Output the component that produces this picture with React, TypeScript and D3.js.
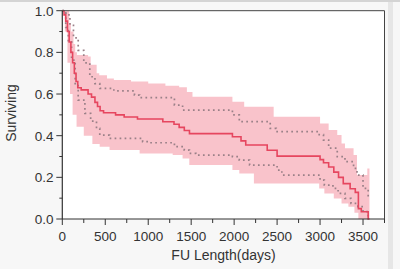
import React from "react";
import * as d3 from "d3";

const survival: [number, number][] = [
  [0, 1.0], [20, 0.98], [40, 0.95], [60, 0.9], [80, 0.85], [100, 0.8], [120, 0.75],
  [140, 0.7], [160, 0.66], [180, 0.63], [220, 0.62], [300, 0.6], [340, 0.585],
  [380, 0.56], [410, 0.54], [440, 0.52], [480, 0.51], [620, 0.5], [720, 0.49],
  [875, 0.48], [1170, 0.467], [1300, 0.455], [1360, 0.44], [1420, 0.425],
  [1480, 0.41], [1980, 0.395], [2080, 0.375], [2135, 0.355], [2385, 0.33],
  [2500, 0.302], [3000, 0.285], [3040, 0.27], [3100, 0.25], [3160, 0.225],
  [3215, 0.2], [3270, 0.17], [3350, 0.145], [3410, 0.128], [3446, 0.05],
  [3480, 0.035], [3560, 0.0], [3575, 0.0],
];

const bandUpper: [number, number][] = [
  [0, 1.0], [50, 1.0], [80, 0.94], [100, 0.9], [130, 0.84], [150, 0.8], [170, 0.787],
  [300, 0.78], [330, 0.74], [400, 0.7], [430, 0.69], [520, 0.675], [600, 0.667],
  [800, 0.66], [1000, 0.65], [1200, 0.64], [1360, 0.632], [1450, 0.61],
  [1515, 0.587], [1980, 0.563], [2117, 0.539], [2460, 0.491], [3000, 0.459],
  [3100, 0.427], [3200, 0.403], [3250, 0.363], [3290, 0.34], [3390, 0.307],
  [3430, 0.211], [3550, 0.243], [3575, 0.0],
];

const bandLower: [number, number][] = [
  [0, 1.0], [30, 0.9], [60, 0.75], [90, 0.6], [120, 0.5], [166, 0.443], [250, 0.4],
  [350, 0.36], [435, 0.347], [550, 0.331], [900, 0.315], [1285, 0.307],
  [1400, 0.29], [1478, 0.259], [1980, 0.235], [2060, 0.219], [2230, 0.171],
  [2990, 0.147], [3050, 0.123], [3160, 0.099], [3250, 0.075], [3330, 0.059],
  [3400, 0.03], [3446, 0.0], [3575, 0.0],
];

const dotUpper: [number, number][] = [
  [0, 1.0], [40, 0.98], [89, 0.93], [130, 0.87], [185, 0.81], [250, 0.75],
  [320, 0.683], [380, 0.65], [436, 0.627], [600, 0.615], [840, 0.595],
  [900, 0.583], [1305, 0.547], [1400, 0.523], [1980, 0.5], [2060, 0.467],
  [2420, 0.435], [2490, 0.419], [2990, 0.405], [3040, 0.379], [3100, 0.34],
  [3200, 0.299], [3290, 0.275], [3390, 0.243], [3430, 0.211], [3500, 0.147],
  [3560, 0.1], [3575, 0.1],
];

const dotLower: [number, number][] = [
  [0, 1.0], [40, 0.92], [70, 0.85], [108, 0.763], [150, 0.65], [185, 0.571],
  [263, 0.507], [330, 0.47], [398, 0.435], [436, 0.403], [550, 0.387],
  [935, 0.371], [1000, 0.366], [1305, 0.347], [1420, 0.331], [1480, 0.315],
  [1555, 0.307], [1980, 0.299], [2060, 0.283], [2180, 0.259], [2500, 0.235],
  [2555, 0.211], [3000, 0.187], [3050, 0.163], [3150, 0.147], [3210, 0.123],
  [3290, 0.099], [3360, 0.075], [3440, 0.059], [3500, 0.035], [3560, 0.0],
];

const xTicks = [0, 500, 1000, 1500, 2000, 2500, 3000, 3500];
const yTicks = [0, 0.2, 0.4, 0.6, 0.8, 1.0];

function stepAt(arr: [number, number][], t: number) {
  let v = arr[0][1];
  for (const [tt, vv] of arr) {
    if (tt <= t) v = vv;
    else break;
  }
  return v;
}

export default function App() {
  const W = 400, H = 269;
  const x = d3.scaleLinear().domain([0, 3750]).range([62.3, 384.5]);
  const y = d3.scaleLinear().domain([0, 1]).range([219, 10.7]);

  const times = Array.from(new Set([...bandUpper.map((d) => d[0]), ...bandLower.map((d) => d[0])])).sort((a, b) => a - b);
  const bandData = times.map((t) => ({ t, hi: stepAt(bandUpper, t), lo: stepAt(bandLower, t) }));
  const area = d3
    .area<{ t: number; hi: number; lo: number }>()
    .x((d) => x(d.t))
    .y0((d) => y(d.lo))
    .y1((d) => y(d.hi))
    .curve(d3.curveStepAfter);
  const line = d3
    .line<[number, number]>()
    .x((d) => x(d[0]))
    .y((d) => y(d[1]))
    .curve(d3.curveStepAfter);

  const xMinor = d3.range(0, 3751, 250);
  const yMinor = d3.range(0, 1.001, 0.1);
  const font = "'Liberation Sans', Arial, sans-serif";

  return (
    <div style={{ position: "fixed", left: 0, top: 0 }}>
      <svg width={W} height={H} style={{ display: "block" }}>
        <rect x={0} y={0} width={W} height={H} fill="#f7f7f7" />
        <rect x={0} y={0} width={W} height={2} fill="#d4d4d4" />
        <rect x={388} y={2} width={5} height={H - 2} fill="#e6e6e6" />
        <rect x={x(0)} y={y(1)} width={x(3750) - x(0)} height={y(0) - y(1)} fill="#ffffff" />
        <path d={area(bandData) || ""} fill="#f9c3cb" />
        <path d={line(dotUpper) || ""} fill="none" stroke="#9a8088" strokeWidth={1.7} strokeDasharray="1.7 3.3" />
        <path d={line(dotLower) || ""} fill="none" stroke="#9a8088" strokeWidth={1.7} strokeDasharray="1.7 3.3" />
        <path d={line(survival) || ""} fill="none" stroke="#e6465f" strokeWidth={1.6} />
        {/* frame */}
        <line x1={x(0)} x2={x(3750)} y1={y(1)} y2={y(1)} stroke="#444" strokeWidth={1} />
        <line x1={x(3750)} x2={x(3750)} y1={y(1)} y2={y(0)} stroke="#444" strokeWidth={1} />
        {/* axes */}
        <line x1={x(0)} x2={x(3750)} y1={y(0)} y2={y(0)} stroke="#333" strokeWidth={1.2} />
        <line x1={x(0)} x2={x(0)} y1={y(1)} y2={y(0)} stroke="#333" strokeWidth={1.2} />
        {xMinor.map((t) => (
          <line key={"xm" + t} x1={x(t)} x2={x(t)} y1={y(0)} y2={y(0) + (t % 500 === 0 ? 6 : 4)} stroke="#333" strokeWidth={1} />
        ))}
        {yMinor.map((v, i) => (
          <line key={"ym" + i} x1={x(0) - (i % 2 === 0 ? 6 : 3)} x2={x(0)} y1={y(v)} y2={y(v)} stroke="#333" strokeWidth={1} />
        ))}
        {xTicks.map((t) => (
          <text key={"xt" + t} x={x(t)} y={241} textAnchor="middle" fontFamily={font} fontSize={13.5} fill="#333">
            {t}
          </text>
        ))}
        {yTicks.map((v) => (
          <text key={"yt" + v} x={53.5} y={y(v)} dy="0.36em" textAnchor="end" fontFamily={font} fontSize={13.5} fill="#333">
            {v.toFixed(1)}
          </text>
        ))}
        <text x={223.5} y={260} textAnchor="middle" fontFamily={font} fontSize={14} fill="#333">
          FU Length(days)
        </text>
        <text transform="translate(16,113) rotate(-90)" textAnchor="middle" fontFamily={font} fontSize={14} fill="#333">
          Surviving
        </text>
      </svg>
    </div>
  );
}
